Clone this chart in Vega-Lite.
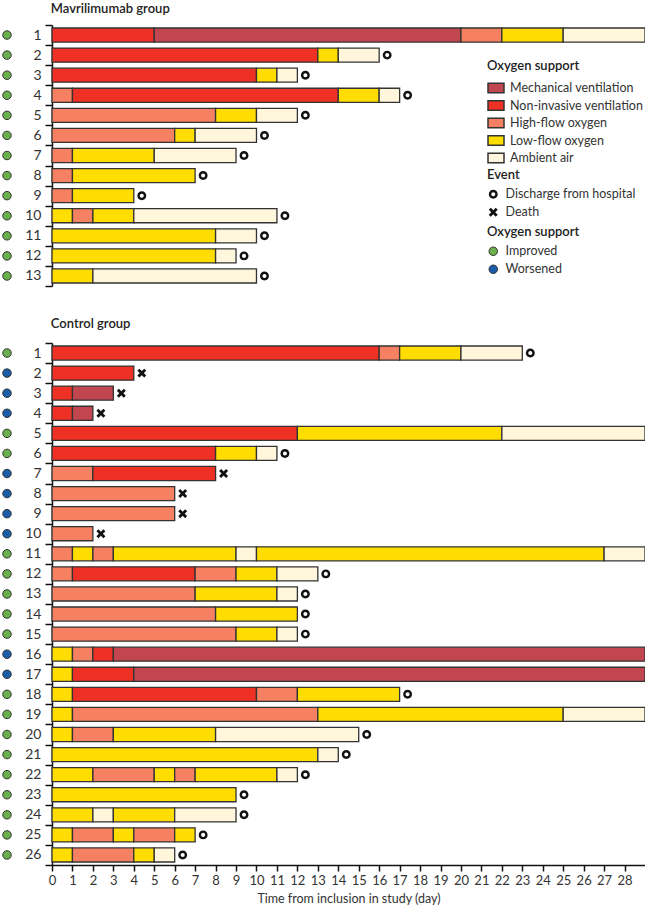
{
  "$schema": "https://vega.github.io/schema/vega-lite/v6.json",
  "padding": {"left": 0, "top": 3, "right": 0, "bottom": 0},
  "background": "white",
  "config": {
    "view": {"stroke": null},
    "font": "Lato",
    "concat": {"spacing": 0},
    "axis": {"labelFont": "Lato", "titleFont": "Lato", "labelColor": "#333", "titleColor": "#333", "domainColor": "#111", "tickColor": "#111", "domainWidth": 1.5, "tickWidth": 1.5, "grid": false},
    "legend": {"titleFont": "Lato", "labelFont": "Lato", "titleFontSize": 13, "titleFontWeight": 600, "titleColor": "#222", "labelFontSize": 12.5, "labelColor": "#333", "rowPadding": 5, "titlePadding": 6}
  },
  "datasets": {
    "mavBars": [
      {"id": 1, "s": 0, "e": 5, "o": "Non-invasive ventilation"},
      {"id": 1, "s": 5, "e": 20, "o": "Mechanical ventilation"},
      {"id": 1, "s": 20, "e": 22, "o": "High-flow oxygen"},
      {"id": 1, "s": 22, "e": 25, "o": "Low-flow oxygen"},
      {"id": 1, "s": 25, "e": 29, "o": "Ambient air"},
      {"id": 2, "s": 0, "e": 13, "o": "Non-invasive ventilation"},
      {"id": 2, "s": 13, "e": 14, "o": "Low-flow oxygen"},
      {"id": 2, "s": 14, "e": 16, "o": "Ambient air"},
      {"id": 3, "s": 0, "e": 10, "o": "Non-invasive ventilation"},
      {"id": 3, "s": 10, "e": 11, "o": "Low-flow oxygen"},
      {"id": 3, "s": 11, "e": 12, "o": "Ambient air"},
      {"id": 4, "s": 0, "e": 1, "o": "High-flow oxygen"},
      {"id": 4, "s": 1, "e": 14, "o": "Non-invasive ventilation"},
      {"id": 4, "s": 14, "e": 16, "o": "Low-flow oxygen"},
      {"id": 4, "s": 16, "e": 17, "o": "Ambient air"},
      {"id": 5, "s": 0, "e": 8, "o": "High-flow oxygen"},
      {"id": 5, "s": 8, "e": 10, "o": "Low-flow oxygen"},
      {"id": 5, "s": 10, "e": 12, "o": "Ambient air"},
      {"id": 6, "s": 0, "e": 6, "o": "High-flow oxygen"},
      {"id": 6, "s": 6, "e": 7, "o": "Low-flow oxygen"},
      {"id": 6, "s": 7, "e": 10, "o": "Ambient air"},
      {"id": 7, "s": 0, "e": 1, "o": "High-flow oxygen"},
      {"id": 7, "s": 1, "e": 5, "o": "Low-flow oxygen"},
      {"id": 7, "s": 5, "e": 9, "o": "Ambient air"},
      {"id": 8, "s": 0, "e": 1, "o": "High-flow oxygen"},
      {"id": 8, "s": 1, "e": 7, "o": "Low-flow oxygen"},
      {"id": 9, "s": 0, "e": 1, "o": "High-flow oxygen"},
      {"id": 9, "s": 1, "e": 4, "o": "Low-flow oxygen"},
      {"id": 10, "s": 0, "e": 1, "o": "Low-flow oxygen"},
      {"id": 10, "s": 1, "e": 2, "o": "High-flow oxygen"},
      {"id": 10, "s": 2, "e": 4, "o": "Low-flow oxygen"},
      {"id": 10, "s": 4, "e": 11, "o": "Ambient air"},
      {"id": 11, "s": 0, "e": 8, "o": "Low-flow oxygen"},
      {"id": 11, "s": 8, "e": 10, "o": "Ambient air"},
      {"id": 12, "s": 0, "e": 8, "o": "Low-flow oxygen"},
      {"id": 12, "s": 8, "e": 9, "o": "Ambient air"},
      {"id": 13, "s": 0, "e": 2, "o": "Low-flow oxygen"},
      {"id": 13, "s": 2, "e": 10, "o": "Ambient air"}
    ],
    "mavEvents": [
      {"id": 2, "t": 16, "ev": "Discharge from hospital"},
      {"id": 3, "t": 12, "ev": "Discharge from hospital"},
      {"id": 4, "t": 17, "ev": "Discharge from hospital"},
      {"id": 5, "t": 12, "ev": "Discharge from hospital"},
      {"id": 6, "t": 10, "ev": "Discharge from hospital"},
      {"id": 7, "t": 9, "ev": "Discharge from hospital"},
      {"id": 8, "t": 7, "ev": "Discharge from hospital"},
      {"id": 9, "t": 4, "ev": "Discharge from hospital"},
      {"id": 10, "t": 11, "ev": "Discharge from hospital"},
      {"id": 11, "t": 10, "ev": "Discharge from hospital"},
      {"id": 12, "t": 9, "ev": "Discharge from hospital"},
      {"id": 13, "t": 10, "ev": "Discharge from hospital"}
    ],
    "mavStatus": [
      {"id": 1, "st": "Improved"}, {"id": 2, "st": "Improved"}, {"id": 3, "st": "Improved"},
      {"id": 4, "st": "Improved"}, {"id": 5, "st": "Improved"}, {"id": 6, "st": "Improved"},
      {"id": 7, "st": "Improved"}, {"id": 8, "st": "Improved"}, {"id": 9, "st": "Improved"},
      {"id": 10, "st": "Improved"}, {"id": 11, "st": "Improved"}, {"id": 12, "st": "Improved"},
      {"id": 13, "st": "Improved"}
    ],
    "ctlBars": [
      {"id": 1, "s": 0, "e": 16, "o": "Non-invasive ventilation"},
      {"id": 1, "s": 16, "e": 17, "o": "High-flow oxygen"},
      {"id": 1, "s": 17, "e": 20, "o": "Low-flow oxygen"},
      {"id": 1, "s": 20, "e": 23, "o": "Ambient air"},
      {"id": 2, "s": 0, "e": 4, "o": "Non-invasive ventilation"},
      {"id": 3, "s": 0, "e": 1, "o": "Non-invasive ventilation"},
      {"id": 3, "s": 1, "e": 3, "o": "Mechanical ventilation"},
      {"id": 4, "s": 0, "e": 1, "o": "Non-invasive ventilation"},
      {"id": 4, "s": 1, "e": 2, "o": "Mechanical ventilation"},
      {"id": 5, "s": 0, "e": 12, "o": "Non-invasive ventilation"},
      {"id": 5, "s": 12, "e": 22, "o": "Low-flow oxygen"},
      {"id": 5, "s": 22, "e": 29, "o": "Ambient air"},
      {"id": 6, "s": 0, "e": 8, "o": "Non-invasive ventilation"},
      {"id": 6, "s": 8, "e": 10, "o": "Low-flow oxygen"},
      {"id": 6, "s": 10, "e": 11, "o": "Ambient air"},
      {"id": 7, "s": 0, "e": 2, "o": "High-flow oxygen"},
      {"id": 7, "s": 2, "e": 8, "o": "Non-invasive ventilation"},
      {"id": 8, "s": 0, "e": 6, "o": "High-flow oxygen"},
      {"id": 9, "s": 0, "e": 6, "o": "High-flow oxygen"},
      {"id": 10, "s": 0, "e": 2, "o": "High-flow oxygen"},
      {"id": 11, "s": 0, "e": 1, "o": "High-flow oxygen"},
      {"id": 11, "s": 1, "e": 2, "o": "Low-flow oxygen"},
      {"id": 11, "s": 2, "e": 3, "o": "High-flow oxygen"},
      {"id": 11, "s": 3, "e": 9, "o": "Low-flow oxygen"},
      {"id": 11, "s": 9, "e": 10, "o": "Ambient air"},
      {"id": 11, "s": 10, "e": 27, "o": "Low-flow oxygen"},
      {"id": 11, "s": 27, "e": 29, "o": "Ambient air"},
      {"id": 12, "s": 0, "e": 1, "o": "High-flow oxygen"},
      {"id": 12, "s": 1, "e": 7, "o": "Non-invasive ventilation"},
      {"id": 12, "s": 7, "e": 9, "o": "High-flow oxygen"},
      {"id": 12, "s": 9, "e": 11, "o": "Low-flow oxygen"},
      {"id": 12, "s": 11, "e": 13, "o": "Ambient air"},
      {"id": 13, "s": 0, "e": 7, "o": "High-flow oxygen"},
      {"id": 13, "s": 7, "e": 11, "o": "Low-flow oxygen"},
      {"id": 13, "s": 11, "e": 12, "o": "Ambient air"},
      {"id": 14, "s": 0, "e": 8, "o": "High-flow oxygen"},
      {"id": 14, "s": 8, "e": 12, "o": "Low-flow oxygen"},
      {"id": 15, "s": 0, "e": 9, "o": "High-flow oxygen"},
      {"id": 15, "s": 9, "e": 11, "o": "Low-flow oxygen"},
      {"id": 15, "s": 11, "e": 12, "o": "Ambient air"},
      {"id": 16, "s": 0, "e": 1, "o": "Low-flow oxygen"},
      {"id": 16, "s": 1, "e": 2, "o": "High-flow oxygen"},
      {"id": 16, "s": 2, "e": 3, "o": "Non-invasive ventilation"},
      {"id": 16, "s": 3, "e": 29, "o": "Mechanical ventilation"},
      {"id": 17, "s": 0, "e": 1, "o": "Low-flow oxygen"},
      {"id": 17, "s": 1, "e": 4, "o": "Non-invasive ventilation"},
      {"id": 17, "s": 4, "e": 29, "o": "Mechanical ventilation"},
      {"id": 18, "s": 0, "e": 1, "o": "Low-flow oxygen"},
      {"id": 18, "s": 1, "e": 10, "o": "Non-invasive ventilation"},
      {"id": 18, "s": 10, "e": 12, "o": "High-flow oxygen"},
      {"id": 18, "s": 12, "e": 17, "o": "Low-flow oxygen"},
      {"id": 19, "s": 0, "e": 1, "o": "Low-flow oxygen"},
      {"id": 19, "s": 1, "e": 13, "o": "High-flow oxygen"},
      {"id": 19, "s": 13, "e": 25, "o": "Low-flow oxygen"},
      {"id": 19, "s": 25, "e": 29, "o": "Ambient air"},
      {"id": 20, "s": 0, "e": 1, "o": "Low-flow oxygen"},
      {"id": 20, "s": 1, "e": 3, "o": "High-flow oxygen"},
      {"id": 20, "s": 3, "e": 8, "o": "Low-flow oxygen"},
      {"id": 20, "s": 8, "e": 15, "o": "Ambient air"},
      {"id": 21, "s": 0, "e": 13, "o": "Low-flow oxygen"},
      {"id": 21, "s": 13, "e": 14, "o": "Ambient air"},
      {"id": 22, "s": 0, "e": 2, "o": "Low-flow oxygen"},
      {"id": 22, "s": 2, "e": 5, "o": "High-flow oxygen"},
      {"id": 22, "s": 5, "e": 6, "o": "Low-flow oxygen"},
      {"id": 22, "s": 6, "e": 7, "o": "High-flow oxygen"},
      {"id": 22, "s": 7, "e": 11, "o": "Low-flow oxygen"},
      {"id": 22, "s": 11, "e": 12, "o": "Ambient air"},
      {"id": 23, "s": 0, "e": 9, "o": "Low-flow oxygen"},
      {"id": 24, "s": 0, "e": 2, "o": "Low-flow oxygen"},
      {"id": 24, "s": 2, "e": 3, "o": "Ambient air"},
      {"id": 24, "s": 3, "e": 6, "o": "Low-flow oxygen"},
      {"id": 24, "s": 6, "e": 9, "o": "Ambient air"},
      {"id": 25, "s": 0, "e": 1, "o": "Low-flow oxygen"},
      {"id": 25, "s": 1, "e": 3, "o": "High-flow oxygen"},
      {"id": 25, "s": 3, "e": 4, "o": "Low-flow oxygen"},
      {"id": 25, "s": 4, "e": 6, "o": "High-flow oxygen"},
      {"id": 25, "s": 6, "e": 7, "o": "Low-flow oxygen"},
      {"id": 26, "s": 0, "e": 1, "o": "Low-flow oxygen"},
      {"id": 26, "s": 1, "e": 4, "o": "High-flow oxygen"},
      {"id": 26, "s": 4, "e": 5, "o": "Low-flow oxygen"},
      {"id": 26, "s": 5, "e": 6, "o": "Ambient air"}
    ],
    "ctlEvents": [
      {"id": 1, "t": 23, "ev": "Discharge from hospital"},
      {"id": 2, "t": 4, "ev": "Death"},
      {"id": 3, "t": 3, "ev": "Death"},
      {"id": 4, "t": 2, "ev": "Death"},
      {"id": 6, "t": 11, "ev": "Discharge from hospital"},
      {"id": 7, "t": 8, "ev": "Death"},
      {"id": 8, "t": 6, "ev": "Death"},
      {"id": 9, "t": 6, "ev": "Death"},
      {"id": 10, "t": 2, "ev": "Death"},
      {"id": 12, "t": 13, "ev": "Discharge from hospital"},
      {"id": 13, "t": 12, "ev": "Discharge from hospital"},
      {"id": 14, "t": 12, "ev": "Discharge from hospital"},
      {"id": 15, "t": 12, "ev": "Discharge from hospital"},
      {"id": 18, "t": 17, "ev": "Discharge from hospital"},
      {"id": 20, "t": 15, "ev": "Discharge from hospital"},
      {"id": 21, "t": 14, "ev": "Discharge from hospital"},
      {"id": 22, "t": 12, "ev": "Discharge from hospital"},
      {"id": 23, "t": 9, "ev": "Discharge from hospital"},
      {"id": 24, "t": 9, "ev": "Discharge from hospital"},
      {"id": 25, "t": 7, "ev": "Discharge from hospital"},
      {"id": 26, "t": 6, "ev": "Discharge from hospital"}
    ],
    "ctlStatus": [
      {"id": 1, "st": "Improved"}, {"id": 2, "st": "Worsened"}, {"id": 3, "st": "Worsened"},
      {"id": 4, "st": "Worsened"}, {"id": 5, "st": "Improved"}, {"id": 6, "st": "Improved"},
      {"id": 7, "st": "Worsened"}, {"id": 8, "st": "Worsened"}, {"id": 9, "st": "Worsened"},
      {"id": 10, "st": "Worsened"}, {"id": 11, "st": "Improved"}, {"id": 12, "st": "Improved"},
      {"id": 13, "st": "Improved"}, {"id": 14, "st": "Improved"}, {"id": 15, "st": "Improved"},
      {"id": 16, "st": "Worsened"}, {"id": 17, "st": "Worsened"}, {"id": 18, "st": "Improved"},
      {"id": 19, "st": "Improved"}, {"id": 20, "st": "Improved"}, {"id": 21, "st": "Improved"},
      {"id": 22, "st": "Improved"}, {"id": 23, "st": "Improved"}, {"id": 24, "st": "Improved"},
      {"id": 25, "st": "Improved"}, {"id": 26, "st": "Improved"}
    ]
  },
  "vconcat": [
    {
      "title": {"text": "Mavrilimumab group", "anchor": "start", "dx": 50, "fontSize": 13, "fontWeight": 600, "color": "#222", "font": "Lato", "offset": 2},
      "spacing": 0,
      "hconcat": [
        {
          "width": 12, "height": 261,
          "data": {"name": "mavStatus"},
          "mark": {"type": "point", "filled": true, "size": 72, "stroke": "#333", "strokeWidth": 1, "opacity": 1},
          "encoding": {
            "y": {"field": "id", "type": "ordinal", "axis": null},
            "fill": {"field": "st", "type": "nominal", "scale": {"domain": ["Improved", "Worsened"], "range": ["#6ab04c", "#1a5da8"]},
              "legend": {"title": "Oxygen support", "orient": "none", "legendX": 486, "legendY": 201, "labelOffset": 6, "symbolType": "circle", "symbolSize": 72, "symbolStrokeColor": "#333", "symbolStrokeWidth": 1}}
          }
        },
        {
          "width": 593, "height": 261,
          "layer": [
            {
              "data": {"name": "mavBars"},
              "mark": {"type": "bar", "height": {"band": 0.7}, "stroke": "#333", "strokeWidth": 1.3},
              "encoding": {
                "y": {"field": "id", "type": "ordinal", "scale": {"type": "band", "paddingInner": 0, "paddingOuter": 0},
                  "axis": {"title": null, "tickBand": "extent", "tickSize": 7, "labelFontSize": 14, "labelPadding": 4, "minExtent": 38, "maxExtent": 38}},
                "x": {"field": "s", "type": "quantitative", "scale": {"domain": [0, 29], "nice": false}, "axis": null},
                "x2": {"field": "e"},
                "color": {"field": "o", "type": "nominal",
                  "scale": {"domain": ["Mechanical ventilation", "Non-invasive ventilation", "High-flow oxygen", "Low-flow oxygen", "Ambient air"], "range": ["#c1464f", "#ee3124", "#f58062", "#ffdd00", "#fff6dc"]},
                  "legend": {"title": "Oxygen support", "orient": "none", "legendX": 486, "legendY": 35, "rowPadding": 0.5, "labelOffset": 5, "symbolType": "M-1,-0.6L1,-0.6L1,0.6L-1,0.6Z", "symbolSize": 256, "symbolStrokeColor": "#333", "symbolStrokeWidth": 1.5}}
              }
            },
            {
              "data": {"name": "mavEvents"},
              "mark": {"type": "point", "filled": true, "size": 80, "xOffset": 8, "color": "#111", "opacity": 1},
              "encoding": {
                "y": {"field": "id", "type": "ordinal"},
                "x": {"field": "t", "type": "quantitative", "axis": null},
                "shape": {"field": "ev", "type": "nominal",
                  "scale": {"domain": ["Discharge from hospital", "Death"], "range": ["M0,-1A1,1,0,1,1,0,1A1,1,0,1,1,0,-1ZM0,-0.45A0.45,0.45,0,1,0,0,0.45A0.45,0.45,0,1,0,0,-0.45Z", "M-1,-0.55L-0.55,-1L0,-0.45L0.55,-1L1,-0.55L0.45,0L1,0.55L0.55,1L0,0.45L-0.55,1L-1,0.55L-0.45,0Z"]},
                  "legend": {"title": "Event", "orient": "none", "legendX": 486, "legendY": 144, "labelOffset": 6, "symbolSize": 80, "symbolFillColor": "#111", "symbolStrokeWidth": 0}}
              }
            }
          ]
        }
      ],
      "resolve": {"scale": {"y": "independent"}}
    },
    {
      "title": {"text": "Control group", "anchor": "start", "dx": 50, "fontSize": 13, "fontWeight": 600, "color": "#222", "font": "Lato", "offset": 5},
      "spacing": 0,
      "hconcat": [
        {
          "width": 12, "height": 522,
          "data": {"name": "ctlStatus"},
          "mark": {"type": "point", "filled": true, "size": 72, "stroke": "#333", "strokeWidth": 1, "opacity": 1},
          "encoding": {
            "y": {"field": "id", "type": "ordinal", "axis": null},
            "fill": {"field": "st", "type": "nominal", "scale": {"domain": ["Improved", "Worsened"], "range": ["#6ab04c", "#1a5da8"]},
              "legend": {"title": "Oxygen support", "orient": "none", "legendX": 486, "legendY": 201, "labelOffset": 6, "symbolType": "circle", "symbolSize": 72, "symbolStrokeColor": "#333", "symbolStrokeWidth": 1}}
          }
        },
        {
          "width": 593, "height": 522,
          "layer": [
            {
              "data": {"name": "ctlBars"},
              "mark": {"type": "bar", "height": {"band": 0.7}, "stroke": "#333", "strokeWidth": 1.3},
              "encoding": {
                "y": {"field": "id", "type": "ordinal", "scale": {"type": "band", "paddingInner": 0, "paddingOuter": 0},
                  "axis": {"title": null, "tickBand": "extent", "tickSize": 7, "labelFontSize": 14, "labelPadding": 4, "minExtent": 38, "maxExtent": 38}},
                "x": {"field": "s", "type": "quantitative", "scale": {"domain": [0, 29], "nice": false},
                  "axis": {"title": "Time from inclusion in study (day)", "values": [0,1,2,3,4,5,6,7,8,9,10,11,12,13,14,15,16,17,18,19,20,21,22,23,24,25,26,27,28], "tickCount": 29, "labelOverlap": false, "tickSize": 6, "labelFontSize": 13, "labelPadding": 3, "titleFontSize": 12.5, "titleFontWeight": "normal", "titlePadding": 5, "labelFlush": false}},
                "x2": {"field": "e"},
                "color": {"field": "o", "type": "nominal",
                  "scale": {"domain": ["Mechanical ventilation", "Non-invasive ventilation", "High-flow oxygen", "Low-flow oxygen", "Ambient air"], "range": ["#c1464f", "#ee3124", "#f58062", "#ffdd00", "#fff6dc"]},
                  "legend": {"title": "Oxygen support", "orient": "none", "legendX": 486, "legendY": 35, "rowPadding": 0.5, "labelOffset": 5, "symbolType": "M-1,-0.6L1,-0.6L1,0.6L-1,0.6Z", "symbolSize": 256, "symbolStrokeColor": "#333", "symbolStrokeWidth": 1.5}}
              }
            },
            {
              "data": {"name": "ctlEvents"},
              "mark": {"type": "point", "filled": true, "size": 80, "xOffset": 8, "color": "#111", "opacity": 1},
              "encoding": {
                "y": {"field": "id", "type": "ordinal"},
                "x": {"field": "t", "type": "quantitative",
                  "axis": {"title": "Time from inclusion in study (day)", "values": [0,1,2,3,4,5,6,7,8,9,10,11,12,13,14,15,16,17,18,19,20,21,22,23,24,25,26,27,28], "tickCount": 29, "labelOverlap": false, "tickSize": 6, "labelFontSize": 13, "labelPadding": 3, "titleFontSize": 12.5, "titleFontWeight": "normal", "titlePadding": 5, "labelFlush": false}},
                "shape": {"field": "ev", "type": "nominal",
                  "scale": {"domain": ["Discharge from hospital", "Death"], "range": ["M0,-1A1,1,0,1,1,0,1A1,1,0,1,1,0,-1ZM0,-0.45A0.45,0.45,0,1,0,0,0.45A0.45,0.45,0,1,0,0,-0.45Z", "M-1,-0.55L-0.55,-1L0,-0.45L0.55,-1L1,-0.55L0.45,0L1,0.55L0.55,1L0,0.45L-0.55,1L-1,0.55L-0.45,0Z"]},
                  "legend": {"title": "Event", "orient": "none", "legendX": 486, "legendY": 144, "labelOffset": 6, "symbolSize": 80, "symbolFillColor": "#111", "symbolStrokeWidth": 0}}
              }
            }
          ]
        }
      ],
      "resolve": {"scale": {"y": "independent"}}
    }
  ],
  "spacing": 31,
  "resolve": {"scale": {"y": "independent", "x": "independent", "color": "shared", "shape": "shared", "fill": "shared"}, "legend": {"color": "shared", "shape": "shared", "fill": "shared"}}
}
